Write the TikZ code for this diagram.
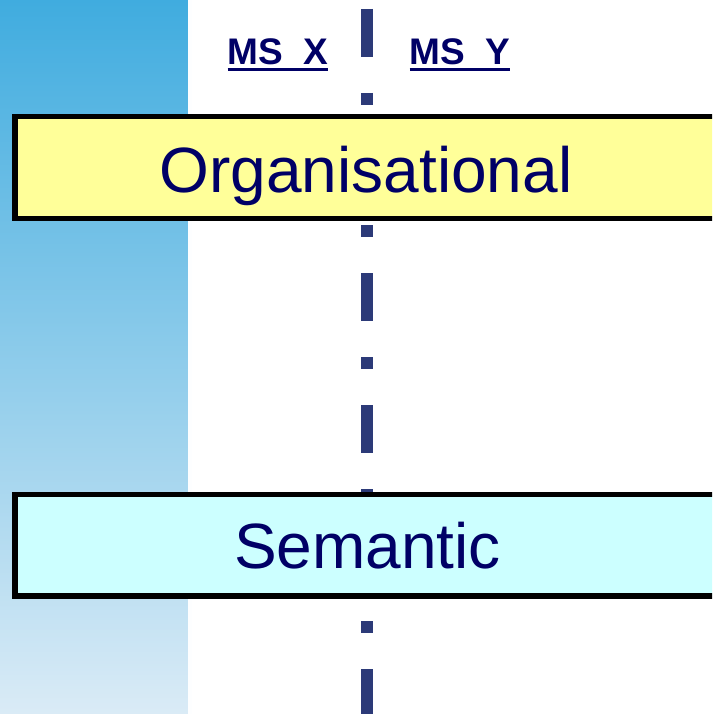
\documentclass[tikz,border=0pt]{standalone}
\usepackage{fontspec}
\setmainfont{Liberation Sans}
\definecolor{navy}{RGB}{0,0,102}
\definecolor{dashnavy}{RGB}{44,58,120}
\definecolor{boxyellow}{RGB}{255,255,153}
\definecolor{boxcyan}{RGB}{204,255,255}
\definecolor{striptop}{RGB}{64,172,223}
\definecolor{stripmid}{RGB}{120,195,232}
\definecolor{stripbot}{RGB}{218,235,246}
\begin{document}
\begin{tikzpicture}[x=1pt,y=-1pt,
  layerbox/.style={draw=black, line width=5.5pt, inner sep=0pt, anchor=north west,
    minimum width=740pt, minimum height=101.5pt},
  layertext/.style={text=navy, font=\fontsize{64}{64}\selectfont, anchor=base, inner sep=0pt},
  mslabel/.style={text=navy, font=\fontsize{37}{37}\selectfont\bfseries, anchor=base, inner sep=0pt},
  msline/.style={draw=navy, line width=3pt},
  axis/.style={draw=dashnavy, line width=12pt, dash pattern=on 48pt off 36pt on 12pt off 36pt}]
\useasboundingbox (0,0) rectangle (712,714);
\clip (0,0) rectangle (712,714);
\fill[white] (0,0) rectangle (712,714);
\shade[top color=striptop, middle color=stripmid, bottom color=stripbot] (0,0) rectangle (188,714);
\fill[white!96!stripbot] (188,0) rectangle (192,714);
% axis
\coordinate (axtop) at (367,9);
\coordinate (axbot) at (367,760);
\path[axis] (axtop) -- (axbot);
% labels
\node[mslabel] (msx) at (278,65) {MS\hspace{0.55em}X};
\node[mslabel] (msy) at (460,65) {MS\hspace{0.55em}Y};
\draw[msline] (msx.west |- 0,70) -- (msx.east |- 0,70);
\draw[msline] (msy.west |- 0,70) -- (msy.east |- 0,70);
% boxes
\node[layerbox, fill=boxyellow] (org) at (12,114) {};
\node[layertext] (orgtext) at (366,193) {Organisational};
\node[layerbox, fill=boxcyan] (sem) at (12,491.7) {};
\node[layertext] (semtext) at (367.5,568) {Semantic};
\end{tikzpicture}
\end{document}
